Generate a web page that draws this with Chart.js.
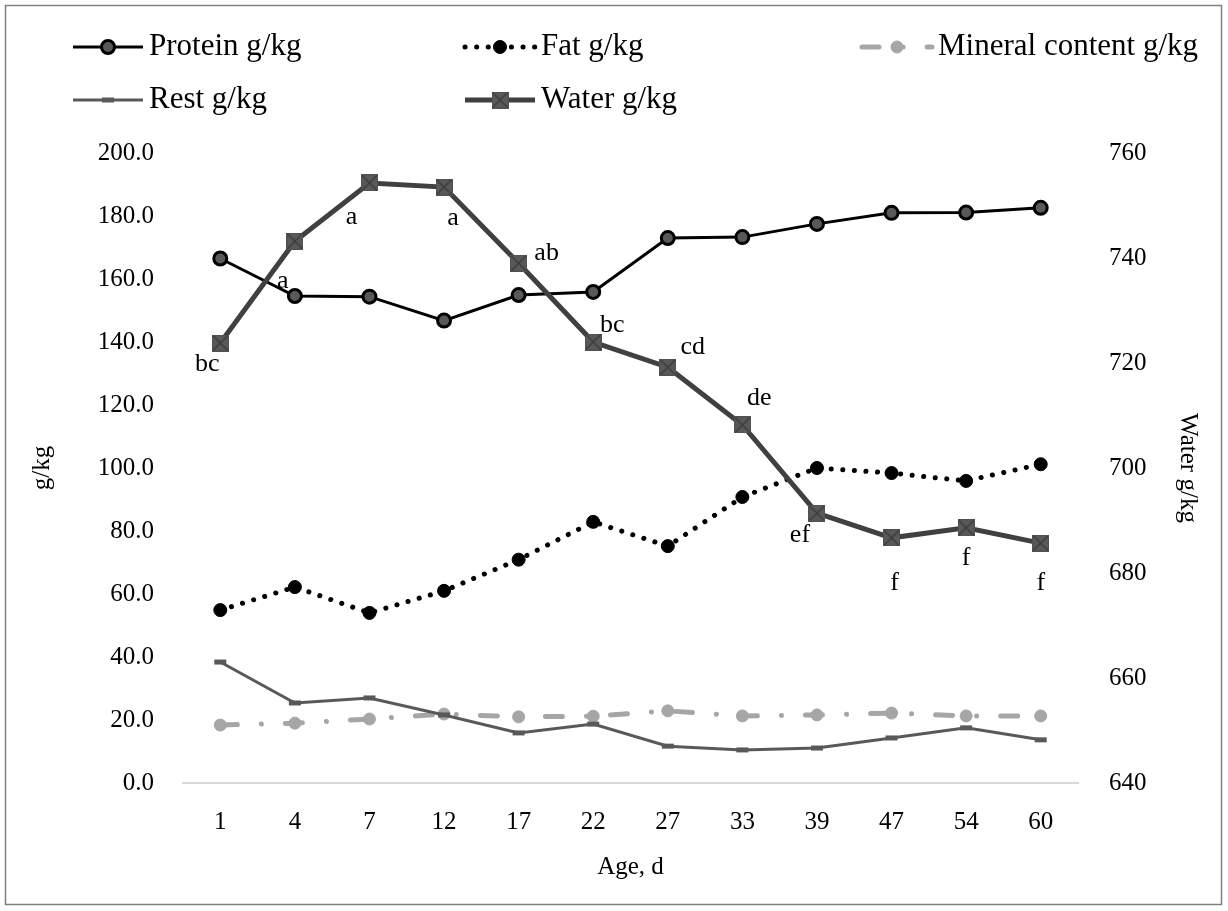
<!DOCTYPE html>
<html>
<head>
<meta charset="utf-8">
<title>Body composition by age</title>
<script src="https://cdn.jsdelivr.net/npm/chart.js@4/dist/chart.umd.min.js"></script>
<style>
  html, body { margin: 0; padding: 0; background: #fff; }
  #wrap { position: relative; width: 1228px; height: 911px; }
</style>
</head>
<body>
<div id="wrap"><canvas id="chart" width="1228" height="911"></canvas></div>
<script>
// Age in days
const ages = ['1', '4', '7', '12', '17', '22', '27', '33', '39', '47', '54', '60'];

// Composition, g/kg (left axis)
const protein = [166.5, 154.6, 154.4, 146.8, 154.9, 155.9, 173.0, 173.3, 177.5, 181.0, 181.1, 182.6];
const fat     = [54.9, 62.2, 54.0, 61.0, 70.9, 82.9, 75.2, 90.8, 100.0, 98.4, 95.9, 101.2];
const mineral = [18.4, 19.0, 20.3, 21.9, 21.0, 21.2, 22.9, 21.3, 21.6, 22.2, 21.3, 21.3];
const rest    = [38.4, 25.4, 27.0, 21.6, 15.9, 18.7, 11.7, 10.5, 11.1, 14.3, 17.5, 13.7];

// Water, g/kg (right axis)
const water   = [723.8, 743.2, 754.3, 753.5, 739.0, 724.0, 719.2, 708.2, 691.4, 686.7, 688.6, 685.7];

// Significance letters for water
const waterLetters = ['bc', 'a', 'a', 'a', 'ab', 'bc', 'cd', 'de', 'ef', 'f', 'f', 'f'];

// Axis ranges
const leftAxis  = { min: 0, max: 200, step: 20 };
const rightAxis = { min: 640, max: 760, step: 20 };

const FONT = '"Liberation Serif", "Times New Roman", serif';
const TICK_SIZE = 25;

// Square-with-cross marker for the water series
function crossSquare(size) {
  const c = document.createElement('canvas');
  c.width = size; c.height = size;
  const g = c.getContext('2d');
  g.fillStyle = '#595959';
  g.fillRect(0, 0, size, size);
  g.strokeStyle = '#3a3a3a';
  g.lineWidth = 1.4;
  g.beginPath();
  g.moveTo(1, 1); g.lineTo(size - 1, size - 1);
  g.moveTo(size - 1, 1); g.lineTo(1, size - 1);
  g.stroke();
  g.strokeStyle = '#505050';
  g.lineWidth = 1;
  g.strokeRect(0.5, 0.5, size - 1, size - 1);
  return c;
}
const waterMarker = crossSquare(17);

// White background and frame
const framePlugin = {
  id: 'frame',
  beforeDraw(chart) {
    const ctx = chart.ctx;
    ctx.save();
    ctx.fillStyle = '#ffffff';
    ctx.fillRect(0, 0, chart.width, chart.height);
    ctx.strokeStyle = '#7f7f7f';
    ctx.lineWidth = 1.5;
    ctx.strokeRect(5.5, 5.5, 1216, 899);
    ctx.restore();
  }
};

// Letters beside water points
const letterPlugin = {
  id: 'letters',
  afterDatasetsDraw(chart, args, opts) {
    const idx = chart.data.datasets.findIndex(d => d.label === 'Water g/kg');
    const meta = chart.getDatasetMeta(idx);
    const ctx = chart.ctx;
    ctx.save();
    ctx.font = opts.fontSize + 'px ' + FONT;
    ctx.fillStyle = '#000';
    ctx.textAlign = 'center';
    ctx.textBaseline = 'middle';
    meta.data.forEach((pt, i) => {
      const [dx, dy] = opts.offsets[i];
      ctx.fillText(waterLetters[i], pt.x + dx, pt.y + dy);
    });
    ctx.restore();
  }
};

// Legend laid out in fixed columns, using each dataset's own line and marker style
const legendPlugin = {
  id: 'gridLegend',
  afterDraw(chart, args, opts) {
    const c = chart.ctx;
    const ds = chart.data.datasets;
    opts.items.forEach(item => {
      const d = ds.find(s => s.label === item.label);
      const x0 = item.x, x1 = item.x + opts.sampleLen, y = item.y;
      c.save();
      c.strokeStyle = d.borderColor;
      c.lineWidth = d.borderWidth;
      c.lineCap = d.borderCapStyle || 'butt';
      c.setLineDash(d.borderDash || []);
      c.beginPath();
      c.moveTo(x0, y); c.lineTo(x1, y);
      c.stroke();
      c.restore();
      c.save();
      c.fillStyle = d.pointBackgroundColor;
      c.strokeStyle = d.pointBorderColor;
      c.lineWidth = d.pointBorderWidth;
      Chart.helpers.drawPoint(c, {
        pointStyle: d.pointStyle, rotation: 0,
        radius: d.pointRadius, borderWidth: d.pointBorderWidth
      }, (x0 + x1) / 2, y);
      c.restore();
    });
    c.save();
    c.font = opts.fontSize + 'px ' + FONT;
    c.fillStyle = '#000';
    c.textBaseline = 'middle';
    opts.items.forEach(item => {
      c.fillText(item.label, item.x + opts.sampleLen + opts.gap, item.y);
    });
    c.restore();
  }
};

const ctx = document.getElementById('chart').getContext('2d');

const datasets = [
  {
    label: 'Water g/kg', data: water, yAxisID: 'y2', order: 0,
    borderColor: '#404040', borderWidth: 5,
    pointStyle: waterMarker, pointRadius: 8.5, pointBorderWidth: 0,
    backgroundColor: '#595959', pointBackgroundColor: '#595959', pointBorderColor: '#404040'
  },
  {
    label: 'Protein g/kg', data: protein, yAxisID: 'y', order: 1,
    borderColor: '#000000', borderWidth: 3,
    pointStyle: 'circle', pointRadius: 6.5, pointBorderWidth: 3,
    backgroundColor: '#595959', pointBackgroundColor: '#595959', pointBorderColor: '#000000'
  },
  {
    label: 'Fat g/kg', data: fat, yAxisID: 'y', order: 2,
    borderColor: '#000000', borderWidth: 5, borderDash: [0.1, 11.5], borderCapStyle: 'round',
    pointStyle: 'circle', pointRadius: 6.5, pointBorderWidth: 1,
    backgroundColor: '#000000', pointBackgroundColor: '#000000', pointBorderColor: '#000000'
  },
  {
    label: 'Rest g/kg', data: rest, yAxisID: 'y', order: 3,
    borderColor: '#595959', borderWidth: 3,
    pointStyle: 'line', pointRadius: 6, pointBorderWidth: 5,
    backgroundColor: '#595959', pointBackgroundColor: '#595959', pointBorderColor: '#595959'
  },
  {
    label: 'Mineral content g/kg', data: mineral, yAxisID: 'y', order: 4,
    borderColor: '#a6a6a6', borderWidth: 5, borderDash: [17, 24, 0.1, 24], borderCapStyle: 'round',
    pointStyle: 'circle', pointRadius: 6, pointBorderWidth: 1,
    backgroundColor: '#a6a6a6', pointBackgroundColor: '#a6a6a6', pointBorderColor: '#a6a6a6'
  }
];

const chart = new Chart(ctx, {
  type: 'line',
  data: { labels: ages, datasets },
  plugins: [framePlugin, letterPlugin, legendPlugin],
  options: {
    responsive: false,
    animation: false,
    layout: { padding: { top: 153, left: 0, right: 0, bottom: 0 } },
    plugins: {
      legend: { display: false },
      tooltip: { enabled: false },
      letters: {
        fontSize: 26,
        offsets: [[-13, 21], [-12, 40], [-18, 34], [9, 31], [28, -10], [19, -17],
                  [25, -20], [17, -27], [-17, 22], [3, 45], [0, 30], [0, 40]]
      },
      gridLegend: {
        sampleLen: 70, gap: 6, fontSize: 31,
        items: [
          { label: 'Protein g/kg', x: 73, y: 47 },
          { label: 'Fat g/kg', x: 465, y: 47 },
          { label: 'Mineral content g/kg', x: 862, y: 47 },
          { label: 'Rest g/kg', x: 73, y: 100 },
          { label: 'Water g/kg', x: 465, y: 100 }
        ]
      }
    },
    scales: {
      x: {
        type: 'category',
        offset: true,
        grid: { display: false, drawTicks: false },
        border: { display: true, color: '#d9d9d9', width: 2 },
        ticks: { color: '#000', font: { family: FONT, size: TICK_SIZE }, padding: 24, maxRotation: 0 },
        title: { display: true, text: 'Age, d', color: '#000', font: { family: FONT, size: TICK_SIZE }, padding: { top: 0, bottom: 29 } },
        afterFit(scale) { scale.height = 128; }
      },
      y: {
        position: 'left',
        min: leftAxis.min, max: leftAxis.max,
        grid: { display: false, drawTicks: false },
        border: { display: false },
        ticks: {
          stepSize: leftAxis.step, color: '#000', padding: 29,
          font: { family: FONT, size: TICK_SIZE },
          callback: v => Number(v).toFixed(1)
        },
        title: { display: true, text: 'g/kg', color: '#000', font: { family: FONT, size: TICK_SIZE }, padding: { top: 27, bottom: 0 } },
        afterFit(scale) { scale.width = 183; }
      },
      y2: {
        position: 'right',
        min: rightAxis.min, max: rightAxis.max,
        grid: { display: false, drawTicks: false },
        border: { display: false },
        ticks: {
          stepSize: rightAxis.step, color: '#000', padding: 31,
          font: { family: FONT, size: TICK_SIZE }
        },
        title: { display: true, text: 'Water g/kg', color: '#000', font: { family: FONT, size: TICK_SIZE }, padding: { top: 25, bottom: 0 } },
        afterFit(scale) { scale.width = 150; }
      }
    }
  }
});
</script>
</body>
</html>
